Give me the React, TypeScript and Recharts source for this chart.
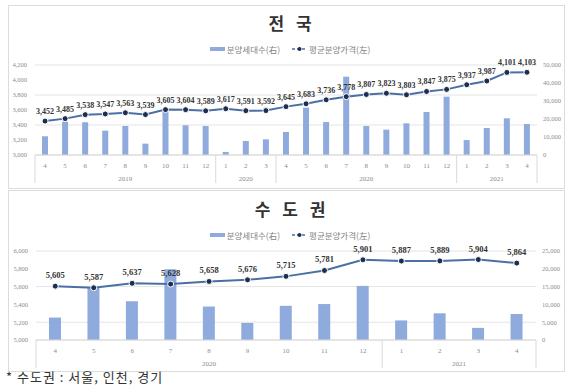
import React from 'react';
import { ComposedChart, Bar, Line, XAxis, YAxis, CartesianGrid, LabelList } from 'recharts';

// 전국
const monthsNat = ['4', '5', '6', '7', '8', '9', '10', '11', '12', '1', '2', '3', '4', '5', '6', '7', '8', '9', '10', '11', '12', '1', '2', '3', '4'];
const yearsNat = [
  { label: '2019', count: 9 },
  { label: '2020', count: 3 },
  { label: '2020', count: 9 },
  { label: '2021', count: 4 },
];
const priceNat = [3452, 3485, 3538, 3547, 3563, 3539, 3605, 3604, 3589, 3617, 3591, 3592, 3645, 3683, 3736, 3778, 3807, 3823, 3803, 3847, 3875, 3937, 3987, 4101, 4103];
const unitsNat = [10400, 18400, 18200, 13500, 16100, 6300, 24000, 16500, 16100, 1700, 7800, 8700, 12800, 26300, 18300, 43500, 16100, 14100, 17600, 23900, 32400, 8300, 15000, 20400, 17200];
const leftTicksNat = [3000, 3200, 3400, 3600, 3800, 4000, 4200];
const rightTicksNat = [0, 5000, 10000, 15000, 20000, 25000, 30000, 35000, 40000, 45000, 50000];

// 수도권
const monthsCap = ['4', '5', '6', '7', '8', '9', '10', '11', '12', '1', '2', '3', '4'];
const yearsCap = [
  { label: '2020', count: 9 },
  { label: '2021', count: 4 },
];
const priceCap = [5605, 5587, 5637, 5628, 5658, 5676, 5715, 5781, 5901, 5887, 5889, 5904, 5864];
const unitsCap = [6300, 14900, 10900, 19900, 9400, 4800, 9600, 10100, 15200, 5500, 7500, 3400, 7300];
const leftTicksCap = [5000, 5200, 5400, 5600, 5800, 6000];
const rightTicksCap = [0, 5000, 10000, 15000, 20000, 25000];

const BAR = '#8FAADC';
const LINE = '#4A6FA5';
const DOT = '#1F2D4F';
const GRID = '#e4e4e4';
const AXIS_TXT = '#8c8c8c';
const SERIF = '"Liberation Serif", "Times New Roman", serif';
const KR = '"Noto Sans CJK KR", "Noto Sans", sans-serif';

const fmt = (v: number) => v.toLocaleString('en-US');

// month label + year group row under the axis
const makeTick = (months: string[], years: { label: string; count: number }[], fallbackHalf: number) =>
  (props: any) => {
    const { x, y, payload } = props;
    const i = payload.index;
    const half = payload.offset || fallbackHalf;
    const parts: React.ReactNode[] = [];
    let start = 0;
    years.forEach((g, gi) => {
      if (i === start) {
        parts.push(<line key={'s' + gi} x1={x - half} x2={x - half} y1={y} y2={y + 28} stroke="#d9d9d9" />);
        parts.push(
          <text key={'y' + gi} x={x + (g.count - 1) * half} y={y + 26} textAnchor="middle" fontSize={7} fill={AXIS_TXT} fontFamily={SERIF}>
            {g.label}
          </text>
        );
      }
      if (gi === years.length - 1 && i === start + g.count - 1) {
        parts.push(<line key="end" x1={x + half} x2={x + half} y1={y} y2={y + 28} stroke="#d9d9d9" />);
      }
      start += g.count;
    });
    return (
      <g>
        <text x={x} y={y + 12.5} textAnchor="middle" fontSize={7} fill={AXIS_TXT} fontFamily={SERIF}>
          {months[i]}
        </text>
        {parts}
      </g>
    );
  };

const Legend = ({ top }: { top: number }) => (
  <div
    style={{
      position: 'absolute',
      top,
      left: 0,
      width: 580,
      display: 'flex',
      justifyContent: 'center',
      alignItems: 'center',
      gap: 12,
      fontFamily: KR,
      fontSize: 8.5,
      color: '#7f7f7f',
    }}
  >
    <span style={{ display: 'flex', alignItems: 'center', gap: 2 }}>
      <svg width={15} height={6}><rect x={0} y={1} width={15} height={4} fill={BAR} /></svg>
      분양세대수(右)
    </span>
    <span style={{ display: 'flex', alignItems: 'center', gap: 2 }}>
      <svg width={15} height={6}>
        <line x1={0} x2={15} y1={3} y2={3} stroke={LINE} strokeWidth={1.5} strokeDasharray="3 2" />
        <circle cx={7.5} cy={3} r={2} fill={DOT} />
      </svg>
      평균분양가격(左)
    </span>
  </div>
);

const Title = ({ text, top }: { text: string; top: number }) => (
  <div
    style={{
      position: 'absolute',
      top,
      left: 0,
      width: 580,
      textAlign: 'center',
      fontFamily: KR,
      fontWeight: 700,
      fontSize: 17,
      letterSpacing: 4,
      color: '#333',
      paddingLeft: 2,
    }}
  >
    {text}
  </div>
);

const panel = (top: number, height: number): React.CSSProperties => ({
  position: 'absolute',
  left: 8,
  top,
  width: 557,
  height,
  border: '1px solid #dcdcdc',
  boxSizing: 'border-box',
});

const natRows = monthsNat.map((m, i) => ({ idx: i, price: priceNat[i], units: unitsNat[i] }));
const capRows = monthsCap.map((m, i) => ({ idx: i, price: priceCap[i], units: unitsCap[i] }));

const labelStyle = { fontSize: 8, fontWeight: 700, fontFamily: SERIF, fill: '#333' };

export default function App() {
  return (
    <div style={{ position: 'relative', width: 580, height: 386, background: '#fff', overflow: 'hidden' }}>
      <style>{'body{margin:0}'}</style>
      <div style={panel(5, 184)} />
      <div style={panel(190, 182)} />

      <Title text="전 국" top={10} />
      <Legend top={43} />
      <div style={{ position: 'absolute', left: 0, top: 0 }}>
        <ComposedChart width={580} height={189} data={natRows} margin={{ top: 65, right: 3, bottom: 4, left: 5 }}>
          <CartesianGrid yAxisId="left" vertical={false} stroke={GRID} />
          <XAxis
            dataKey="idx"
            height={30}
            interval={0}
            tickLine={false}
            tickSize={0}
            tickMargin={0}
            axisLine={{ stroke: '#d9d9d9' }}
            tick={makeTick(monthsNat, yearsNat, 10)}
          />
          <YAxis
            yAxisId="left"
            width={30}
            domain={[3000, 4200]}
            ticks={leftTicksNat}
            tickLine={false}
            axisLine={false}
            tickFormatter={fmt}
            tick={{ fontSize: 6.5, fill: AXIS_TXT, fontFamily: SERIF }}
          />
          <YAxis
            yAxisId="right"
            orientation="right"
            width={40}
            domain={[0, 50000]}
            ticks={rightTicksNat}
            tickLine={false}
            axisLine={false}
            tickMargin={0}
            tickFormatter={fmt}
            tick={{ fontSize: 6.5, fill: AXIS_TXT, fontFamily: SERIF }}
          />
          <Bar yAxisId="right" dataKey="units" fill={BAR} barSize={6} isAnimationActive={false} />
          <Line
            yAxisId="left"
            dataKey="price"
            stroke={LINE}
            strokeWidth={2}
            dot={{ r: 3, fill: DOT, stroke: '#fff', strokeWidth: 1 }}
            isAnimationActive={false}
          >
            <LabelList dataKey="price" position="top" offset={7} formatter={fmt} style={labelStyle} />
          </Line>
        </ComposedChart>
      </div>

      <Title text="수 도 권" top={196} />
      <Legend top={229} />
      <div style={{ position: 'absolute', left: 0, top: 190 }}>
        <ComposedChart width={580} height={182} data={capRows} margin={{ top: 61, right: 4, bottom: 4, left: 6 }}>
          <CartesianGrid yAxisId="left" vertical={false} stroke={GRID} />
          <XAxis
            dataKey="idx"
            height={28}
            interval={0}
            tickLine={false}
            tickSize={0}
            tickMargin={0}
            axisLine={{ stroke: '#d9d9d9' }}
            tick={makeTick(monthsCap, yearsCap, 19.25)}
          />
          <YAxis
            yAxisId="left"
            width={30}
            domain={[5000, 6000]}
            ticks={leftTicksCap}
            tickLine={false}
            axisLine={false}
            tickFormatter={fmt}
            tick={{ fontSize: 6.5, fill: AXIS_TXT, fontFamily: SERIF }}
          />
          <YAxis
            yAxisId="right"
            orientation="right"
            width={40}
            domain={[0, 25000]}
            ticks={rightTicksCap}
            tickLine={false}
            axisLine={false}
            tickMargin={0}
            tickFormatter={fmt}
            tick={{ fontSize: 6.5, fill: AXIS_TXT, fontFamily: SERIF }}
          />
          <Bar yAxisId="right" dataKey="units" fill={BAR} barSize={12} isAnimationActive={false} />
          <Line
            yAxisId="left"
            dataKey="price"
            stroke={LINE}
            strokeWidth={2}
            dot={{ r: 3, fill: DOT, stroke: '#fff', strokeWidth: 1 }}
            isAnimationActive={false}
          >
            <LabelList dataKey="price" position="top" offset={8} formatter={fmt} style={{ ...labelStyle, fontSize: 8.5 }} />
          </Line>
        </ComposedChart>
      </div>

      <div style={{ position: 'absolute', left: 6, top: 369, fontFamily: KR, fontSize: 13, letterSpacing: 1, color: '#333', lineHeight: '16px' }}>
        * 수도권 : 서울, 인천, 경기
      </div>
    </div>
  );
}
